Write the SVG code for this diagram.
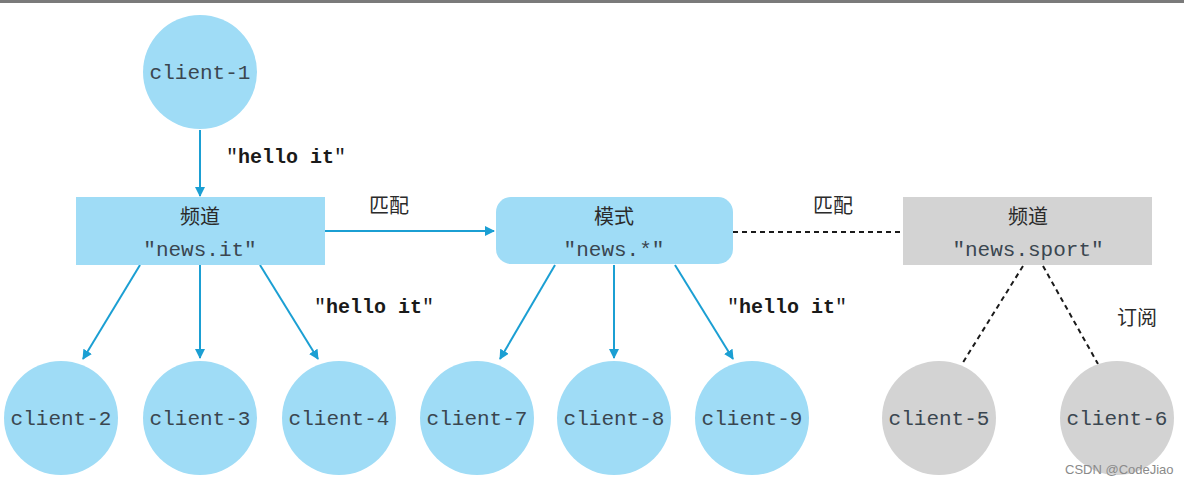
<svg xmlns="http://www.w3.org/2000/svg" width="1184" height="484" viewBox="0 0 1184 484">
<defs>
<style>
.blue{fill:#9fdcf6}
.gray{fill:#d3d3d3}
.mono{font-family:"Liberation Mono","DejaVu Sans Mono",monospace;font-size:21px;fill:#3a4650;text-anchor:middle}
.cjk{font-family:"Noto Sans CJK SC","Noto Sans",sans-serif;font-size:20px;fill:#2b2b2b;text-anchor:middle}
.msg{font-family:"Liberation Mono","DejaVu Sans Mono",monospace;font-size:20px;fill:#1a1a1a;font-weight:bold}
.q{font-weight:normal}
.arrow{stroke:#1b9fd3;stroke-width:2;fill:none;marker-end:url(#ah)}
.dash{stroke:#1a1a1a;stroke-width:2;fill:none;stroke-dasharray:5 4}
</style>
<marker id="ah" viewBox="0 0 10 10" refX="9" refY="5" markerWidth="5" markerHeight="5" orient="auto" markerUnits="strokeWidth">
<path d="M0,0 L10,5 L0,10 Z" fill="#1b9fd3"/>
</marker>
</defs>
<rect x="0" y="0" width="1184" height="484" fill="#ffffff"/>
<rect x="0" y="0" width="1184" height="3" fill="#7a7a7a"/>

<g id="connectors">
<line class="arrow" x1="200" y1="130" x2="200" y2="196"/>
<line class="arrow" x1="325" y1="231" x2="494" y2="231"/>
<line class="dash" x1="733" y1="232" x2="903" y2="232"/>
<line class="arrow" x1="140" y1="265" x2="83" y2="359"/>
<line class="arrow" x1="200" y1="265" x2="200" y2="358"/>
<line class="arrow" x1="260" y1="265" x2="318" y2="359"/>
<line class="arrow" x1="555" y1="265" x2="500" y2="359"/>
<line class="arrow" x1="614" y1="265" x2="614" y2="358"/>
<line class="arrow" x1="675" y1="265" x2="733" y2="359"/>
<line class="dash" x1="1023" y1="266" x2="962" y2="364"/>
<line class="dash" x1="1043" y1="266" x2="1098" y2="364"/>
</g>

<g id="labels">
<text class="msg" x="226" y="163"><tspan class="q">"</tspan>hello it<tspan class="q">"</tspan></text>
<text class="cjk" x="389" y="213">匹配</text>
<text class="cjk" x="833" y="213">匹配</text>
<text class="msg" x="314" y="313"><tspan class="q">"</tspan>hello it<tspan class="q">"</tspan></text>
<text class="msg" x="727" y="313"><tspan class="q">"</tspan>hello it<tspan class="q">"</tspan></text>
<text class="cjk" x="1137" y="325">订阅</text>
</g>

<g id="client-1"><circle class="blue" cx="200" cy="72" r="57"/><text class="mono" x="200" y="79">client-1</text></g>

<g id="channel-news-it">
<rect class="blue" x="76" y="197" width="249" height="68"/>
<text class="cjk" x="200" y="224">频道</text>
<text class="mono" x="200" y="256">"news.it"</text>
</g>

<g id="pattern-news">
<rect class="blue" x="496" y="197" width="237" height="67" rx="15" ry="15"/>
<text class="cjk" x="614" y="224">模式</text>
<text class="mono" x="614" y="256">"news.*"</text>
</g>

<g id="channel-news-sport">
<rect class="gray" x="903" y="197" width="249" height="68"/>
<text class="cjk" x="1028" y="224">频道</text>
<text class="mono" x="1028" y="256">"news.sport"</text>
</g>

<g id="client-2"><circle class="blue" cx="61" cy="418" r="57"/><text class="mono" x="61" y="425">client-2</text></g>
<g id="client-3"><circle class="blue" cx="200" cy="418" r="57"/><text class="mono" x="200" y="425">client-3</text></g>
<g id="client-4"><circle class="blue" cx="339" cy="418" r="57"/><text class="mono" x="339" y="425">client-4</text></g>
<g id="client-7"><circle class="blue" cx="477" cy="418" r="57"/><text class="mono" x="477" y="425">client-7</text></g>
<g id="client-8"><circle class="blue" cx="614" cy="418" r="57"/><text class="mono" x="614" y="425">client-8</text></g>
<g id="client-9"><circle class="blue" cx="752" cy="418" r="57"/><text class="mono" x="752" y="425">client-9</text></g>
<g id="client-5"><circle class="gray" cx="939" cy="418" r="57"/><text class="mono" x="939" y="425">client-5</text></g>
<g id="client-6"><circle class="gray" cx="1117" cy="418" r="57"/><text class="mono" x="1117" y="425">client-6</text></g>

<g id="watermark" font-family="'Liberation Sans','Noto Sans CJK SC',sans-serif" font-size="13">
<text x="1065" y="474" fill="#8a8a8a">CSDN @CodeJiao</text>
</g>
</svg>
